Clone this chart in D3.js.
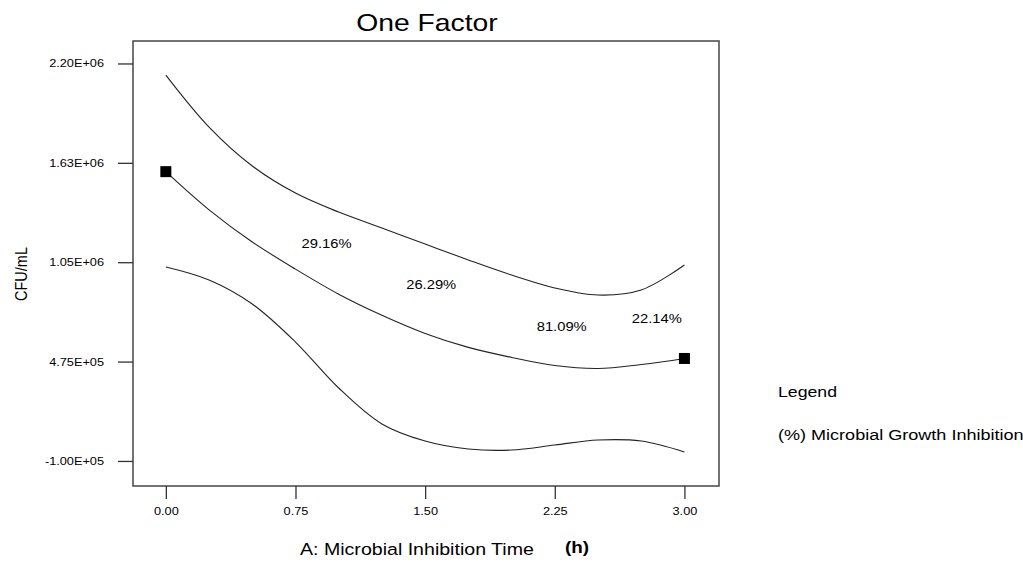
<!DOCTYPE html>
<html>
<head>
<meta charset="utf-8">
<script src="https://cdn.jsdelivr.net/npm/d3@7"></script>
<style>
  body { margin: 0; background: #fff; }
  text { font-family: "Liberation Sans", Arial, sans-serif; fill: #000; }
</style>
</head>
<body>
<div id="chart"></div>
<script>
// time (h)
const times = [0, 0.25, 0.5, 0.75, 1, 1.25, 1.5, 1.75, 2, 2.25, 2.5, 2.75, 3];
// CFU/mL
const upperBand = [2133000, 1832000, 1607000, 1450000, 1340000, 1248000, 1155000, 1063000, 976000, 901000, 860000, 889000, 1034000];
const prediction = [1574000, 1353000, 1167000, 1010000, 865000, 743000, 638000, 557000, 499000, 452000, 435000, 458000, 493000];
const lowerBand = [1022000, 947000, 808000, 588000, 322000, 114000, 15000, -31000, -37000, -8000, 21000, 15000, -48000];

const designPoints = [
  { t: 0, v: 1574000 },
  { t: 3, v: 493000 }
];

const xTicks = [0, 0.75, 1.5, 2.25, 3];
const xTickLabels = ["0.00", "0.75", "1.50", "2.25", "3.00"];
const yTicks = [-100000, 475000, 1050000, 1625000, 2200000];
const yTickLabels = ["-1.00E+05", "4.75E+05", "1.05E+06", "1.63E+06", "2.20E+06"];

const annotations = [
  { text: "29.16%", t: 0.93, v: 1155000 },
  { text: "26.29%", t: 1.535, v: 918000 },
  { text: "81.09%", t: 2.29, v: 675000 },
  { text: "22.14%", t: 2.84, v: 721000 }
];

// the source picture is stretched sideways a little
const sx = 1.18;

const width = 1023, height = 580;
const svg = d3.select("#chart").append("svg")
  .attr("width", width)
  .attr("height", height);

const x = d3.scaleLinear().domain([-0.19, 3.2]).range([133, 719]);
const y = d3.scaleLinear().domain([-245000, 2330000]).range([486, 41]);

// frame
svg.append("rect")
  .attr("x", x.range()[0])
  .attr("y", y.range()[1])
  .attr("width", x.range()[1] - x.range()[0])
  .attr("height", y.range()[0] - y.range()[1])
  .attr("fill", "none")
  .attr("stroke", "#444")
  .attr("stroke-width", 1.5);

// axes
const xAxis = svg.append("g")
  .attr("transform", `translate(0, ${y.range()[0]})`)
  .call(d3.axisBottom(x).tickValues(xTicks).tickSize(13).tickPadding(8)
    .tickFormat((d, i) => xTickLabels[i]));

const yAxis = svg.append("g")
  .attr("transform", `translate(${x.range()[0]}, 0)`)
  .call(d3.axisLeft(y).tickValues(yTicks).tickSize(15).tickPadding(12)
    .tickFormat((d, i) => yTickLabels[i]));

[xAxis, yAxis].forEach(g => {
  g.select(".domain").remove();
  g.selectAll("line").attr("stroke", "#333").attr("stroke-width", 1.3);
  g.selectAll("text")
    .style("font-size", "10.8px")
    .attr("fill", "#000");
});
xAxis.selectAll("text").attr("transform", `scale(${sx},1)`).attr("x", 0);
yAxis.selectAll("text")
  .attr("x", -29 / sx)
  .attr("transform", `scale(${sx},1)`);

// curves
const line = d3.line()
  .x((d, i) => x(times[i]))
  .y(d => y(d))
  .curve(d3.curveCatmullRom.alpha(0.5));

[upperBand, prediction, lowerBand].forEach(series => {
  svg.append("path")
    .datum(series)
    .attr("d", line)
    .attr("fill", "none")
    .attr("stroke", "#222")
    .attr("stroke-width", 1.1);
});

svg.selectAll(".pt")
  .data(designPoints)
  .join("rect")
  .attr("class", "pt")
  .attr("x", d => x(d.t) - 5.5)
  .attr("y", d => y(d.v) - 5.5)
  .attr("width", 11)
  .attr("height", 11)
  .attr("fill", "#000");

// percentage labels
svg.selectAll(".note")
  .data(annotations)
  .join("text")
  .attr("class", "note")
  .attr("transform", d => `translate(${x(d.t)}, ${y(d.v)}) scale(${sx},1)`)
  .attr("text-anchor", "middle")
  .attr("dy", "0.35em")
  .style("font-size", "12.5px")
  .text(d => d.text);

// helper for stretched text
function label(txt, px, py, size, anchor, weight) {
  svg.append("text")
    .attr("transform", `translate(${px}, ${py}) scale(${sx},1)`)
    .attr("text-anchor", anchor)
    .style("font-size", size + "px")
    .style("font-weight", weight || "normal")
    .text(txt);
}

label("One Factor", 427, 31, 24, "middle");
label("A: Microbial Inhibition Time", 300, 555, 16.6, "start");
label("(h)", 565, 553, 16, "start", "bold");
label("Legend", 778, 397, 15, "start");
label("(%) Microbial Growth Inhibition", 778, 440, 15.3, "start");

svg.append("text")
  .attr("transform", `translate(27, 274) rotate(-90) scale(1,${sx})`)
  .attr("text-anchor", "middle")
  .style("font-size", "14.5px")
  .text("CFU/mL");
</script>
</body>
</html>
